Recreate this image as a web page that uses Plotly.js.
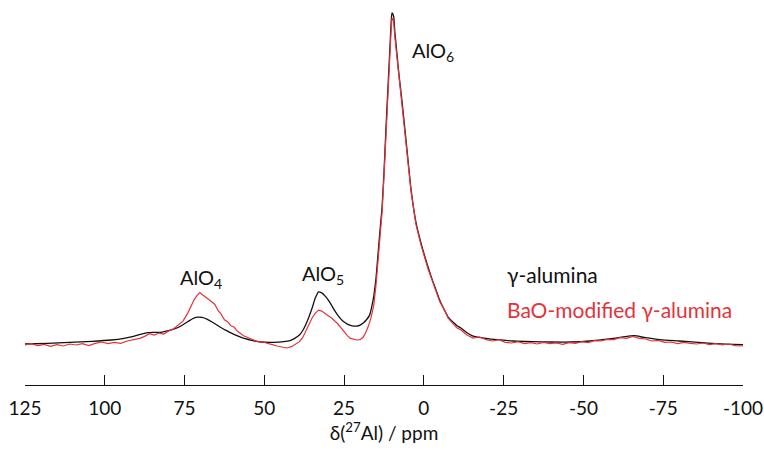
<!DOCTYPE html>
<html>
<head>
<meta charset="utf-8">
<script src="https://cdn.plot.ly/plotly-3.0.1.min.js"></script>
<style>html,body{margin:0;padding:0;background:#fff;}#chart{width:764px;height:453px;}</style>
</head>
<body>
<div id="chart"></div>
<script>
// Chemical shift (ppm) and intensity (relative, AlO6 peak = 100)
const shiftGamma = [125,118,111,104,98,94,91,88.5,86.5,84.5,82,80,78,76,74,72.5,71,69.5,68,66.5,65,63.5,62,60,58,56,54,51,47,44,42,40.5,39,38,37,36,35,34,33,32,31,30,29,28,27,26,25,24,23,22,21,20,19,18,17,16.3,15.7,15.0,14.4,13.8,13.1,12.5,11.9,11.3,10.6,10.3,10.0,9.5,9.1,8.4,7.8,6.9,5.6,4.0,2.5,0.9,-1.3,-2.5,-3.8,-5.0,-6.3,-7.6,-9.0,-10.3,-11.6,-13.5,-15.4,-19,-23,-28,-34,-40,-46,-52,-56,-60,-64,-66,-69,-74,-80,-86,-92,-100];
const intGamma = [0.3,0.5,0.8,1.1,1.5,2.0,2.6,3.3,3.7,3.8,3.9,4.3,4.9,5.8,7.0,7.9,8.4,8.3,7.8,7.0,6.1,5.2,4.4,3.4,2.6,1.9,1.4,0.9,0.8,1.0,1.3,2.0,3.0,4.3,6.2,8.5,11.2,14.2,16.0,15.7,14.8,13.6,12.1,10.4,9.0,7.8,6.9,6.3,5.9,5.7,5.7,6.0,6.6,7.6,9.0,11.7,14.8,20.2,27.1,34.0,41.6,52.1,64.8,76.8,90.4,96.4,100,99.1,94.3,87.3,81.3,73.8,61.7,46.7,37.0,30.7,23.5,20.0,16.6,13.4,10.8,8.4,7.0,5.9,5.1,3.7,2.7,2.1,1.6,1.2,1.0,0.9,0.9,1.2,1.6,2.1,2.7,2.8,2.3,1.6,1.2,0.8,0.4,0.1];

const shiftBaO = [125,123,121,119,117,115,113,111,109,107,105,103,101,99,97,95,93,91,89,87.5,86,84.5,83,81.5,80,78.5,77,75.5,74,73,72,71,70.2,69.5,68.5,67.5,66.5,65.5,64.5,63.5,62.5,61.5,60.5,59.5,58.5,57.5,56.5,55,53.5,52,50.5,49,47.5,46,44.5,43,41.5,40,39,38,37,36,35,34,33,32,31,30,29,28,27,26,25,24,23,22,21,20,19,18.3,17.5,16.6,15.7,15.0,14.4,13.8,13.1,12.5,11.9,11.3,10.6,10.3,10.0,9.5,9.1,8.4,7.8,6.9,5.6,4.0,2.5,0.9,-1.3,-2.5,-3.8,-5.0,-6.3,-7.6,-9.0,-10.3,-11.6,-13.5,-15.4,-17.5,-19.5,-21.5,-23.5,-25.5,-27.5,-29.5,-31.5,-33.5,-35.5,-37.5,-39.5,-41.5,-43.5,-45.5,-47.5,-49.5,-51.5,-53.5,-55.5,-57.5,-59.5,-61.5,-63.5,-65.5,-67.5,-69.5,-71.5,-73.5,-75.5,-77.5,-79.5,-81.5,-83.5,-85.5,-87.5,-89.5,-91.5,-93.5,-95.5,-97.5,-100];
const intBaO = [0.0,0.4,-0.2,0.2,-0.4,0.1,-0.3,0.3,0.0,0.4,-0.2,0.5,0.9,0.4,0.8,0.5,1.2,1.6,2.0,2.6,3.4,3.0,3.6,3.3,4.2,4.8,6.0,7.2,9.6,11.8,13.6,15.0,15.8,15.2,14.6,13.8,13.0,12.2,10.4,9.2,7.6,7.0,5.8,5.4,4.2,3.6,2.8,2.2,1.6,1.0,0.9,0.4,0.1,-0.3,-0.6,-0.9,-0.5,0.4,1.0,2.2,4.2,6.0,8.2,9.6,10.5,10.2,9.4,8.8,8.2,7.4,6.4,5.2,4.0,2.8,2.0,1.7,1.5,1.6,2.4,3.6,5.4,8.1,12.0,18.1,25.0,32.2,40.1,50.9,63.6,75.3,88.3,94.3,98.5,97.6,92.8,86.4,80.4,72.9,60.8,46.1,36.4,30.1,22.9,19.6,16.0,13.0,10.8,8.1,6.6,5.2,4.5,3.0,2.1,2.4,1.6,1.2,1.6,0.8,0.6,1.0,0.4,0.7,0.3,0.8,0.4,0.6,0.2,0.7,0.5,1.0,0.7,1.3,1.2,1.7,1.6,2.2,2.0,2.6,2.0,1.8,1.2,1.4,0.8,0.9,0.4,0.8,0.5,0.3,0.6,0.1,0.4,0.0,0.3,-0.2,-0.3];

const tickVals = [125,100,75,50,25,0,-25,-50,-75,-100];
const tickText = ["125","100","75","50","25","0","-25","-50","-75","-100"];

const seriesNames = ["γ-alumina","BaO-modified γ-alumina"];
const peakLabels = ["AlO<sub>4</sub>","AlO<sub>5</sub>","AlO<sub>6</sub>"];

const FONT = "Lato, 'Open Sans', sans-serif";
const BLACK = "#111111";
const RED = "#e5323b";

const traces = [
  {x: shiftGamma, y: intGamma, type: "scatter", mode: "lines", name: seriesNames[0],
   line: {color: BLACK, width: 1.3, shape: "spline", smoothing: 0.6}},
  {x: shiftBaO, y: intBaO, type: "scatter", mode: "lines", name: seriesNames[1],
   line: {color: RED, width: 1.2}}
];

const ann = (text, x, y, color, size) => ({text, x, y, xref: "x", yref: "y", xanchor: "left", yanchor: "middle",
  showarrow: false, font: {family: FONT, size: size, color}});

const layout = {
  width: 764, height: 453,
  margin: {l: 25, r: 21, t: 10, b: 68},
  paper_bgcolor: "#fff", plot_bgcolor: "#fff",
  showlegend: false,
  font: {family: FONT, color: BLACK},
  xaxis: {
    range: [125, -100], showgrid: false, zeroline: false,
    showline: true, linecolor: BLACK, linewidth: 1,
    ticks: "inside", ticklen: 10, tickwidth: 1, tickcolor: BLACK,
    tickvals: tickVals, ticktext: tickText,
    tickfont: {family: FONT, size: 19, color: BLACK},
    ticklabelstandoff: 6,
    title: {text: "δ(<sup>27</sup>Al) / ppm", font: {family: FONT, size: 19, color: BLACK}, standoff: 8}
  },
  yaxis: {range: [-12.05, 100.9], visible: false, showgrid: false, zeroline: false},
  annotations: [
    ann(peakLabels[0], 77.2, 19.9, BLACK, 20),
    ann(peakLabels[1], 38.8, 21.1, BLACK, 20),
    ann(peakLabels[2], 4.3, 88.3, BLACK, 20),
    ann(seriesNames[0], -25.4, 21.1, BLACK, 21),
    ann(seriesNames[1], -25.4, 10.8, RED, 21)
  ]
};

Plotly.newPlot("chart", traces, layout, {staticPlot: true, displayModeBar: false});
</script>
</body>
</html>
